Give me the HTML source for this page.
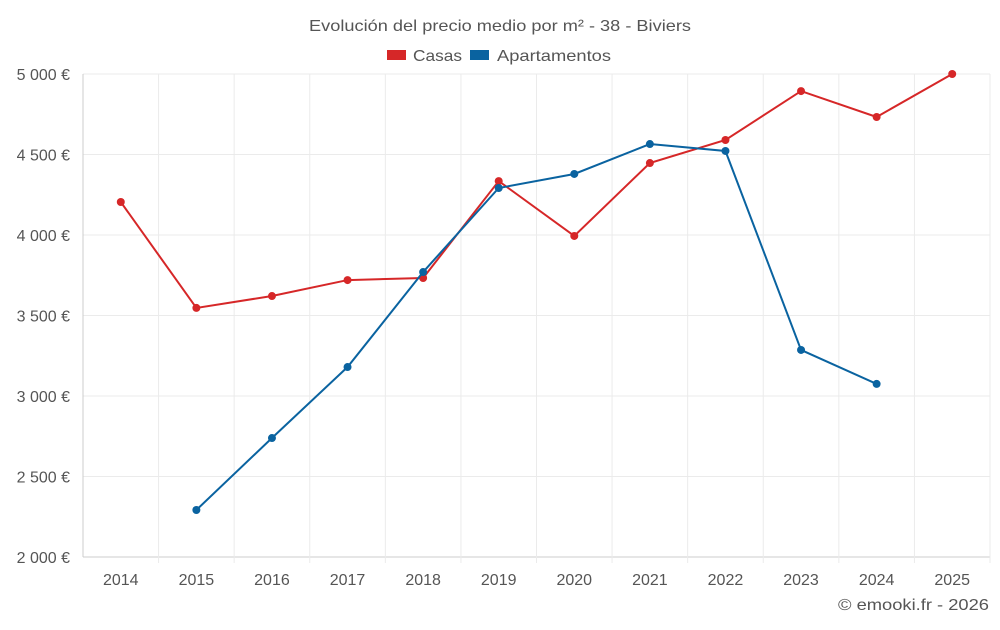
<!DOCTYPE html>
<html><head><meta charset="utf-8"><style>
body{margin:0;background:#fff;font-family:"Liberation Sans",sans-serif;}
svg text{font-family:"Liberation Sans",sans-serif;fill:#555;}
</style></head><body>
<svg id="chart" width="1000" height="625" viewBox="0 0 1000 625">
<text x="309" y="31" font-size="16" textLength="382" lengthAdjust="spacingAndGlyphs">Evolución del precio medio por m² - 38 - Biviers</text>
<g>
<g><rect x="387" y="50" width="19" height="10" fill="#d62728"/><text x="413" y="61" font-size="16" textLength="49" lengthAdjust="spacingAndGlyphs">Casas</text></g>
<g><rect x="470" y="50" width="19" height="10" fill="#0a63a0"/><text x="497" y="61" font-size="16" textLength="114" lengthAdjust="spacingAndGlyphs">Apartamentos</text></g>
</g>
<g id="grid"></g><g id="axes"></g><g id="series"></g>
<text x="838" y="610" font-size="16" textLength="151" lengthAdjust="spacingAndGlyphs">© emooki.fr - 2026</text>
</svg>
<script>
const years=["2014","2015","2016","2017","2018","2019","2020","2021","2022","2023","2024","2025"];
const casas=[4205,3547,3621,3720,3733,4335,3994,4447,4590,4894,4733,5000];
const apartamentos=[null,2292,2739,3180,3770,4292,4379,4565,4522,3286,3075,null];
const yTicks=[2000,2500,3000,3500,4000,4500,5000];
const yTickLabels=["2 000 €","2 500 €","3 000 €","3 500 €","4 000 €","4 500 €","5 000 €"];
const L=83,R=990,T=74,B=557,ymin=2000,ymax=5000;
const bw=(R-L)/years.length;
const x=i=>L+bw*(i+0.5);
const y=v=>B-(v-ymin)/(ymax-ymin)*(B-T);
const NS="http://www.w3.org/2000/svg";
function mk(tag,attrs,parent){const e=document.createElementNS(NS,tag);for(const k in attrs)e.setAttribute(k,attrs[k]);parent.appendChild(e);return e;}
const grid=document.getElementById('grid'),axes=document.getElementById('axes'),ser=document.getElementById('series');
yTicks.forEach((v,i)=>{
 const l=mk('line',{x1:L,x2:R,y1:y(v),y2:y(v),stroke:i==0?'#ccc':'#ebebeb'},grid);
 
 
 const t=mk('text',{x:70,y:y(v)+6,'text-anchor':'end','font-size':'16'},axes);
 t.textContent=yTickLabels[i];
 
 
});
for(let i=0;i<=years.length;i++){
 const l=mk('line',{x1:L+bw*i,x2:L+bw*i,y1:T,y2:B+(i==0?0:6),stroke:i==0?'#ccc':'#ebebeb'},grid);
 
 
}
years.forEach((yr,i)=>{
 const t=mk('text',{x:x(i),y:585,'text-anchor':'middle','font-size':'16'},axes);
 t.textContent=yr;
 
 
});
function draw(data,color,name){
 const pts=[];data.forEach((v,i)=>{if(v!=null)pts.push([x(i),y(v)]);});
 const p=mk('polyline',{points:pts.map(q=>q.join(',')).join(' '),fill:'none',stroke:color,'stroke-width':2},ser);
 
 
 pts.forEach(q=>{
  const c=mk('circle',{cx:q[0],cy:q[1],r:4,fill:color},ser);
  
  
 });
}
draw(casas,'#d62728','casas');
draw(apartamentos,'#0a63a0','apartamentos');
</script>
</body></html>
